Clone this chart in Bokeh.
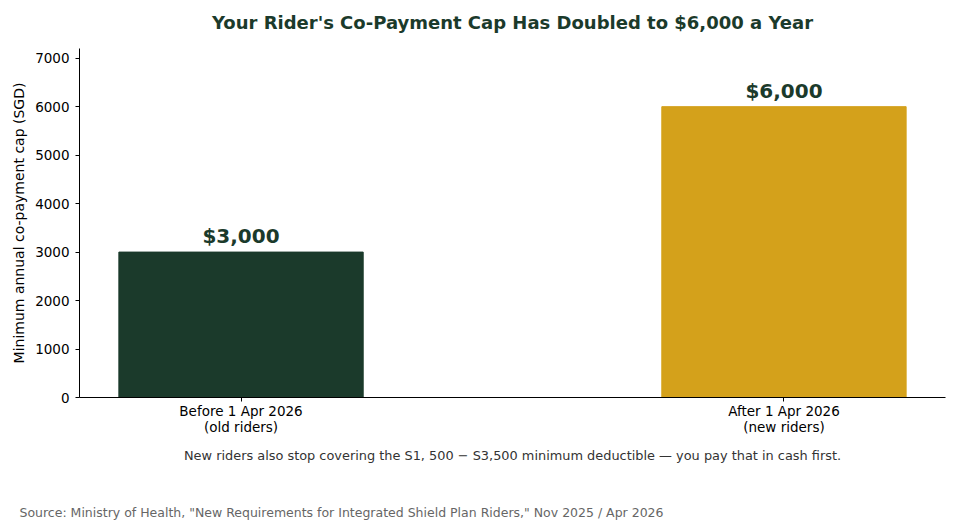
from bokeh.plotting import figure
from bokeh.models import Range1d, FixedTicker, Title, ColumnDataSource
from bokeh.embed import file_html
from bokeh.resources import INLINE
from bokeh.core.properties import value

# ---- data ----
categories = ["Before 1 Apr 2026\n(old riders)", "After 1 Apr 2026\n(new riders)"]
caps = [3000, 6000]
bar_labels = ["$3,000", "$6,000"]
bar_colors = ["#1b3a2b", "#d4a11b"]
y_ticks = [0, 1000, 2000, 3000, 4000, 5000, 6000, 7000]

title_text = "Your Rider's Co-Payment Cap Has Doubled to $6,000 a Year"
y_label = "Minimum annual co-payment cap (SGD)"
note_text = "New riders also stop covering the S1, 500 \u2212 S3,500 minimum deductible \u2014 you pay that in cash first."
source_text = 'Source: Ministry of Health, "New Requirements for Integrated Shield Plan Riders," Nov 2025 / Apr 2026'

FONT = "DejaVu Sans"
DARK = "#1b3a2b"

xs = list(range(len(categories)))
src = ColumnDataSource(dict(x=xs, top=caps, color=bar_colors, label=bar_labels,
                            ly=[c + 80 for c in caps]))

p = figure(width=960, height=520, output_backend="svg", toolbar_location=None,
           x_range=Range1d(-0.2975, 1.2975), y_range=Range1d(0, 7200),
           min_border_left=79, min_border_right=15, min_border_top=48, min_border_bottom=123)

p.vbar(x="x", top="top", width=0.45, color="color", source=src)
p.text(x="x", y="ly", text="label", source=src, text_align="center", text_baseline="bottom",
       text_font=value(FONT), text_font_style="bold", text_font_size="20px", text_color=DARK)

p.title.text = title_text
p.title.align = "center"
p.title.text_font = FONT
p.title.text_font_size = "18px"
p.title.text_font_style = "bold"
p.title.text_color = DARK
p.title.standoff = 19

# thin spacer between title and plot frame
p.add_layout(Title(text="\u00a0", text_font_size="1px", standoff=3), "above")

p.outline_line_color = None
p.xgrid.grid_line_color = None
p.ygrid.grid_line_color = None
p.background_fill_color = "white"
p.border_fill_color = "white"

for ax in (p.xaxis[0], p.yaxis[0]):
    ax.axis_line_color = "black"
    ax.axis_line_width = 1
    ax.major_tick_line_color = "black"
    ax.major_tick_out = 4
    ax.major_tick_in = 0
    ax.minor_tick_line_color = None
    ax.major_label_text_font = FONT
    ax.major_label_text_font_size = "13.5px"
    ax.major_label_text_color = "black"

p.xaxis.ticker = FixedTicker(ticks=xs)
p.xaxis.major_label_overrides = {i: c for i, c in zip(xs, categories)}
p.xaxis.major_label_standoff = 1
p.xaxis.major_label_text_line_height = 1.05

p.yaxis.ticker = FixedTicker(ticks=y_ticks)
p.yaxis.major_label_standoff = 6
p.yaxis.axis_label = y_label
p.yaxis.axis_label_text_font = FONT
p.yaxis.axis_label_text_font_size = "14px"
p.yaxis.axis_label_text_font_style = "normal"
p.yaxis.axis_label_text_color = "black"
p.yaxis.axis_label_standoff = 5

note = Title(text=note_text, align="center", offset=-3, text_font=FONT, text_font_size="12.9px",
             text_font_style="normal", text_color="#333333", standoff=14)
p.add_layout(note, "below")
# spacer between the note and the source line
p.add_layout(Title(text="\u00a0", text_font_size="1px", standoff=30), "below")
srcl = Title(text=source_text, align="left", offset=-60, text_font=FONT,
             text_font_size="12.5px", text_font_style="normal", text_color="#666666", standoff=0)
p.add_layout(srcl, "below")

open("out.html", "w").write(file_html(p, INLINE))
